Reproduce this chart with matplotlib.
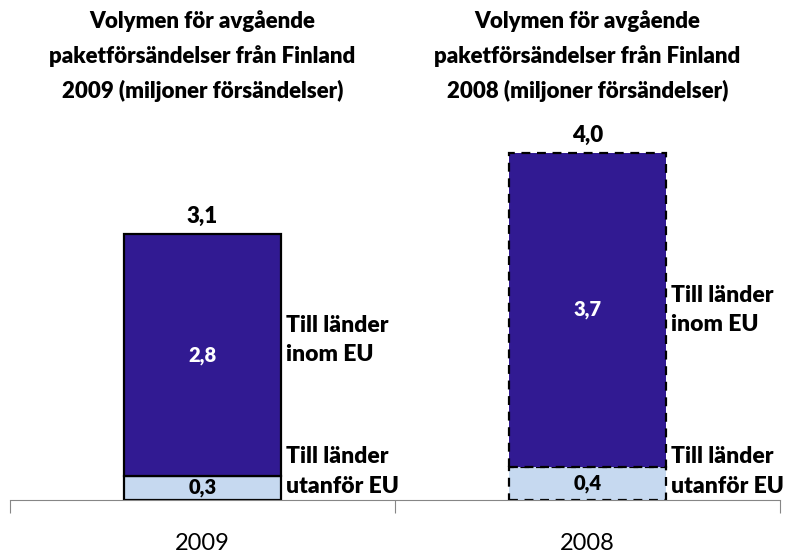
import numpy as np
import matplotlib
matplotlib.use('Agg')
import matplotlib.pyplot as plt
from matplotlib import transforms

plt.rcParams['font.family'] = ['Lato', 'DejaVu Sans']

#------------------------------------------------------------
# data (miljoner försändelser)
years = ['2009', '2008']
outside_eu = [0.28, 0.38]
inside_eu = [2.81, 3.66]
titles = ['Volymen för avgående\npaketförsändelser från Finland\n2009 (miljoner försändelser)',
          'Volymen för avgående\npaketförsändelser från Finland\n2008 (miljoner försändelser)']
label_inside = 'Till länder\ninom EU'
label_outside = 'Till länder\nutanför EU'

dark = '#311A92'
light = '#C6D9F0'
BOLD = 800

def fmt(v):
    return ('%.1f' % v).replace('.', ',')

#------------------------------------------------------------
fig = plt.figure(figsize=(7.85, 5.54), dpi=100)
ax = fig.add_axes([10 / 785, 54 / 554, 770 / 785, 380 / 554])
ax.set_xlim(-0.5, 1.5)
ax.set_ylim(0, 380 / 86)

x = np.arange(len(years))
width = 0.41
styles = ['solid', (0, (4, 3))]

for i in x:
    o, n = outside_eu[i], inside_eu[i]
    ax.bar(i, o, width, color=light, edgecolor='black', lw=1.6, linestyle=styles[i], zorder=2)
    ax.bar(i, n, width, bottom=o, color=dark, edgecolor='black', lw=1.6, linestyle=styles[i], zorder=2)
    ax.text(i, o / 2, fmt(o), ha='center', va='center', fontsize=14.5, fontweight=BOLD, color='black')
    ax.text(i, o + n / 2, fmt(n), ha='center', va='center', fontsize=14.5, fontweight=BOLD, color='white')
    ax.text(i, o + n + 0.08, fmt(o + n), ha='center', va='bottom', fontsize=16, fontweight=BOLD)
    # annotations to the right of the bars
    xr = i + width / 2 + 0.012
    ax.text(xr, [1.86, 2.21][i], label_inside, ha='left', va='center', fontsize=16.5,
            fontweight=BOLD, linespacing=1.5)
    ax.text(xr, 0.33, label_outside, ha='left', va='center', fontsize=16.5,
            fontweight=BOLD, linespacing=1.5)

# titles above each bar
tr = transforms.blended_transform_factory(ax.transData, fig.transFigure)
for i, t in enumerate(titles):
    ax.text(i, 1 - 10 / 554, t, transform=tr, ha='center', va='top', fontsize=16,
            fontweight=BOLD, linespacing=1.72)

# axis styling
for s in ['top', 'right', 'left']:
    ax.spines[s].set_visible(False)
ax.spines['bottom'].set_color('#868686')
ax.set_yticks([])
ax.set_xticks([-0.5, 0.5, 1.5])
ax.set_xticklabels([])
ax.tick_params(axis='x', which='major', length=9, color='#868686', direction='out')
ax.set_xticks(x, minor=True)
ax.set_xticklabels(years, minor=True, fontsize=17)
ax.tick_params(axis='x', which='minor', length=0, pad=24)

fig.savefig('out.png', dpi=100)
